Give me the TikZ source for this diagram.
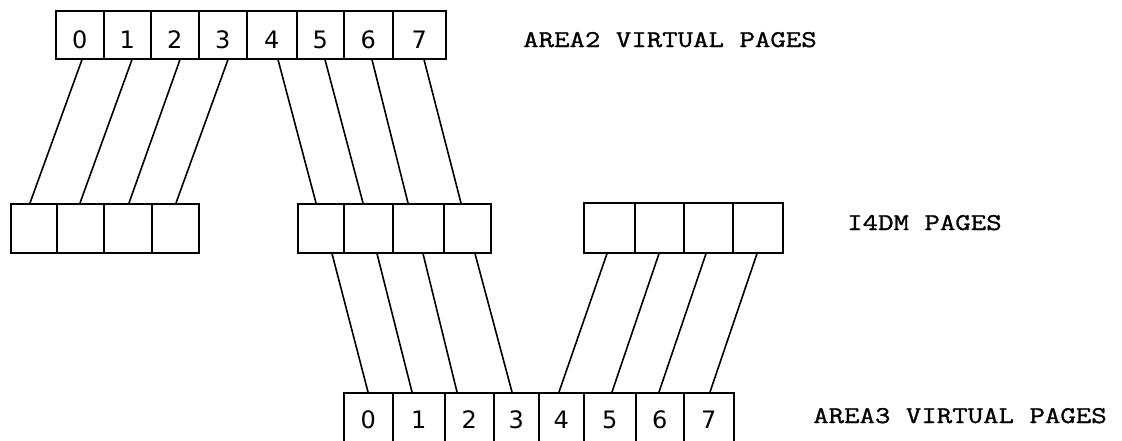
\documentclass[tikz,border=0pt]{standalone}
\usepackage{fontspec}
\newfontfamily\typefont[FakeStretch=1.25,FakeBold=1.2]{Latin Modern Mono}
\newfontfamily\digfont{DejaVu Sans}
\usetikzlibrary{calc}
\begin{document}
\begin{tikzpicture}[x=1pt,y=-1pt,
  cell/.style={draw, line width=1.6pt, inner sep=0pt, anchor=north west},
  digit/.style={font=\digfont\fontsize{24}{24}\selectfont, text depth=0pt},
  link/.style={line width=1.6pt},
  caption/.style={anchor=base west, inner sep=0pt, font=\typefont\fontsize{24}{24}\selectfont}]
\useasboundingbox (0,0) rectangle (1122,440);
\clip (0,0) rectangle (1122,440);

% AREA2 virtual pages (top row)
\foreach \i/\l/\r in {0/55/103, 1/103/150, 2/150/198, 3/198/246,
                      4/246/296, 5/296/343, 6/343/392, 7/392/445} {
  \pgfmathsetmacro\w{\r-\l}
  \node[cell, digit, minimum width=\w pt, minimum height=48pt, text height=28pt]
    (t\i) at (\l,10) {\i};
}

% I4DM pages, three groups of four
\foreach \i/\l/\r in {0/10/56, 1/56/103, 2/103/151, 3/151/198} {
  \pgfmathsetmacro\w{\r-\l}
  \node[cell, minimum width=\w pt, minimum height=49pt] (a\i) at (\l,203) {};
}
\foreach \i/\l/\r in {0/297/343, 1/343/392, 2/392/443, 3/443/490} {
  \pgfmathsetmacro\w{\r-\l}
  \node[cell, minimum width=\w pt, minimum height=49pt] (b\i) at (\l,203) {};
}
\foreach \i/\l/\r in {0/583/634, 1/634/683, 2/683/732, 3/732/782} {
  \pgfmathsetmacro\w{\r-\l}
  \node[cell, minimum width=\w pt, minimum height=50pt] (c\i) at (\l,202) {};
}

% AREA3 virtual pages (bottom row, runs past the lower edge)
\foreach \i/\l/\r in {0/343/392, 1/392/444, 2/444/493, 3/493/538,
                      4/538/583, 5/583/635, 6/635/683, 7/683/733} {
  \pgfmathsetmacro\w{\r-\l}
  \node[cell, digit, minimum width=\w pt, minimum height=52pt, text height=20pt]
    (u\i) at (\l,392) {\i};
}

% mappings: top row to I4DM pages
\foreach \i/\p/\q in {0/27/20, 1/29/24, 2/30/26, 3/30/25}
  \draw[link] ($(t\i.south west)+(\p,0)$) -- ($(a\i.north west)+(\q,0)$);
\foreach \i/\j/\p/\q in {4/0/32/19, 5/1/29/20, 6/2/29/16, 7/3/32/18}
  \draw[link] ($(t\i.south west)+(\p,0)$) -- ($(b\j.north west)+(\q,0)$);

% mappings: I4DM pages to bottom row
\foreach \i/\j/\p/\q in {0/0/35/25, 1/1/34/20, 2/2/31/13, 3/3/32/19}
  \draw[link] ($(b\i.south west)+(\p,0)$) -- ($(u\j.north west)+(\q,0)$);
\foreach \i/\j/\p/\q in {0/4/24/21, 1/5/25/29, 2/6/23/24, 3/7/25/27}
  \draw[link] ($(c\i.south west)+(\p,0)$) -- ($(u\j.north west)+(\q,0)$);

% row captions
\node[caption] (captop) at (523,47) {AREA2 VIRTUAL PAGES};
\node[caption] (capmid) at (847,230) {I4DM PAGES};
\node[caption] (capbot) at (813,423) {AREA3 VIRTUAL PAGES};
\end{tikzpicture}
\end{document}
